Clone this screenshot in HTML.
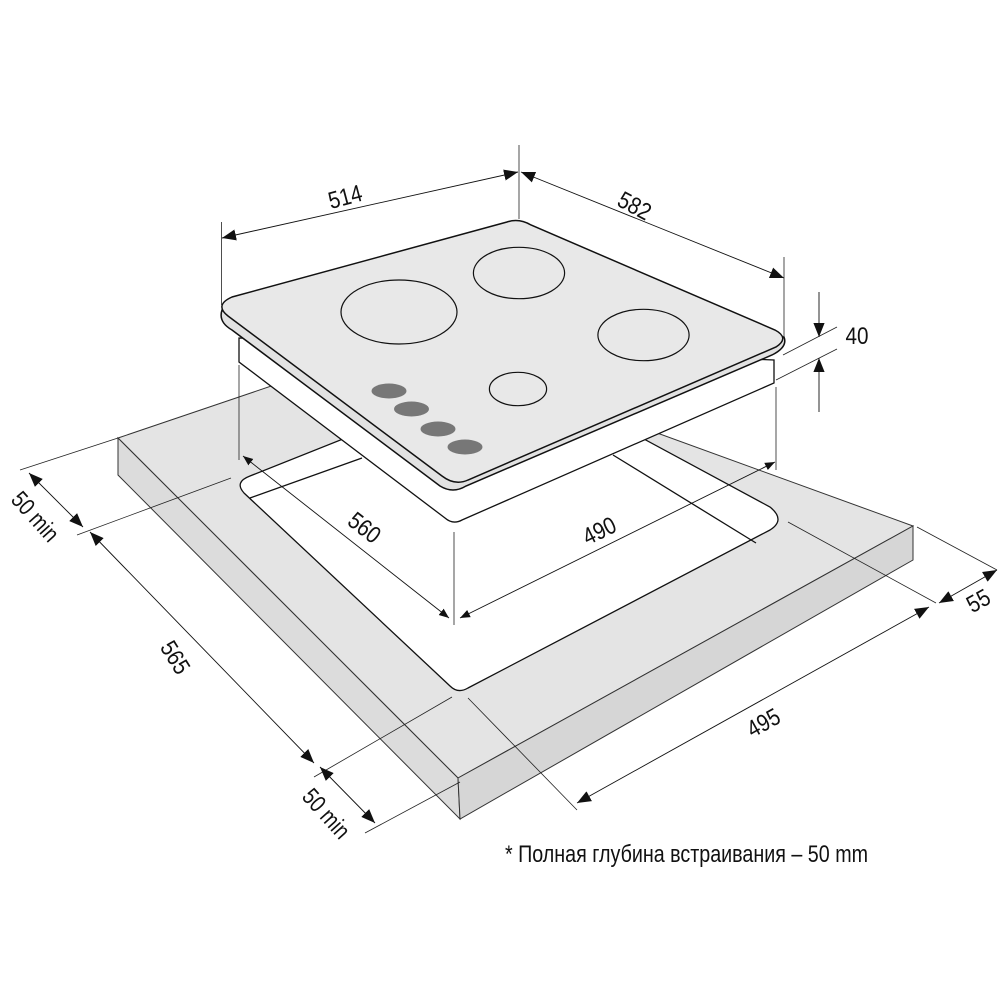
<!DOCTYPE html>
<html><head><meta charset="utf-8"><style>
html,body{margin:0;padding:0;background:#fff;width:1000px;height:1000px;overflow:hidden}
svg{display:block}
text{font-family:"Liberation Sans",sans-serif;font-size:24px;fill:#111}
</style></head><body>
<svg width="1000" height="1000" viewBox="0 0 1000 1000" xmlns="http://www.w3.org/2000/svg">
<defs>
<marker id="a" viewBox="0 0 10 10" refX="10" refY="5" markerWidth="10" markerHeight="10" markerUnits="userSpaceOnUse" orient="auto-start-reverse"><path d="M0,1 L10,5 L0,9z" fill="#111"/></marker>
<marker id="b" viewBox="0 0 10 10" refX="10" refY="5" markerWidth="14" markerHeight="14" markerUnits="userSpaceOnUse" orient="auto-start-reverse"><path d="M0,1 L10,5 L0,9z" fill="#111"/></marker>
</defs>
<polygon points="118,438 404,341 913,526 458,778" fill="#e4e4e4" stroke="#333" stroke-width="1"/>
<polygon points="118,438 458,778 460,819 118,475" fill="#dcdcdc" stroke="#333" stroke-width="1"/>
<polygon points="458,778 913,526 913,560 460,819" fill="#d6d6d6" stroke="#333" stroke-width="1"/>
<path d="M250,476 L516,370 L770,507 Q786,520 770,530 L468,688 Q458,694 450,686 L244,493 Q234,482 250,476Z" fill="#fff" stroke="#111" stroke-width="1.3"/>
<line x1="250" y1="498" x2="362" y2="458" stroke="#111" stroke-width="1.3"/>
<line x1="613" y1="455" x2="756" y2="543" stroke="#111" stroke-width="1.3"/>
<path d="M239,338 L239,362 L445,518 Q453,525 462,520 L774,383 L774,360 Z" fill="#fff" stroke="#111" stroke-width="1.3"/>
<path d="M230,317 L222,310 Q218,322 232,330 L440,486 Q453,494 466,486 L772,355 Q788,347 784,337 Z" fill="#e2e2e2" stroke="#111" stroke-width="1.5"/>
<path d="M232,297 L507,222 Q519,218 531,225 L775,330 Q790,338 776,347 L468,480 Q455,486 442,476 L228,316 Q214,305 232,297Z" fill="#e8e8e8" stroke="#111" stroke-width="1.5"/>
<g fill="none" stroke="#111" stroke-width="1.2">
<ellipse cx="399" cy="312" rx="58" ry="32"/>
<ellipse cx="519" cy="273" rx="45.6" ry="25.7"/>
<ellipse cx="643.5" cy="335" rx="45.6" ry="25.7"/>
<ellipse cx="518" cy="389" rx="28.6" ry="16.7"/>
</g>
<g fill="#777">
<ellipse cx="389" cy="391" rx="17.5" ry="7.5"/>
<ellipse cx="411.5" cy="409" rx="17.5" ry="7.5"/>
<ellipse cx="438" cy="429" rx="17.5" ry="7.5"/>
<ellipse cx="465" cy="447" rx="17.5" ry="7.5"/>
</g>
<g stroke="#222" stroke-width="0.8" fill="none">
<line x1="221.5" y1="222" x2="221.5" y2="305"/>
<line x1="519" y1="145" x2="519" y2="219"/>
<line x1="784" y1="257" x2="784" y2="337"/>
<line x1="783" y1="355" x2="837" y2="327"/>
<line x1="776" y1="380" x2="837" y2="349"/>
<line x1="239" y1="365" x2="239" y2="460"/>
<line x1="776" y1="387" x2="776" y2="470"/>
<line x1="454" y1="532" x2="454" y2="625"/>
<line x1="20" y1="470" x2="118" y2="438"/>
<line x1="77" y1="535" x2="231" y2="478"/>
<line x1="314" y1="777" x2="452" y2="697"/>
<line x1="365" y1="833" x2="460" y2="782"/>
<line x1="468" y1="698" x2="577" y2="810"/>
<line x1="788" y1="522" x2="936" y2="603"/>
<line x1="917" y1="527" x2="997" y2="570"/>
</g>
<g stroke="#111" stroke-width="0.9" fill="none">
<line x1="222" y1="238" x2="518" y2="172" marker-start="url(#b)" marker-end="url(#b)"/>
<line x1="521" y1="172" x2="784" y2="278" marker-start="url(#b)" marker-end="url(#b)"/>
<line x1="819" y1="292" x2="819" y2="337" marker-end="url(#b)"/>
<line x1="819" y1="412" x2="819" y2="358" marker-end="url(#b)"/>
<line x1="243" y1="456" x2="449" y2="618" marker-start="url(#a)" marker-end="url(#a)"/>
<line x1="460" y1="618" x2="775" y2="462" marker-start="url(#a)" marker-end="url(#a)"/>
<line x1="29" y1="473" x2="83" y2="527" marker-start="url(#b)" marker-end="url(#b)"/>
<line x1="90" y1="532" x2="314" y2="763" marker-start="url(#b)" marker-end="url(#b)"/>
<line x1="320" y1="767" x2="375" y2="823" marker-start="url(#b)" marker-end="url(#b)"/>
<line x1="577" y1="803" x2="929" y2="607" marker-start="url(#b)" marker-end="url(#b)"/>
<line x1="939" y1="603" x2="997" y2="570" marker-start="url(#b)" marker-end="url(#b)"/>
</g>
<g text-anchor="middle">
<text x="345" y="205" textLength="34" lengthAdjust="spacingAndGlyphs" transform="rotate(-15 345 196)">514</text>
<text x="635" y="214" textLength="34" lengthAdjust="spacingAndGlyphs" transform="rotate(28 635 205)">582</text>
<text x="857" y="344" textLength="23" lengthAdjust="spacingAndGlyphs">40</text>
<text x="365" y="536" textLength="34" lengthAdjust="spacingAndGlyphs" transform="rotate(38 365 527)">560</text>
<text x="599" y="539" textLength="34" lengthAdjust="spacingAndGlyphs" transform="rotate(-26 599 530)">490</text>
<text x="36" y="525" textLength="58" lengthAdjust="spacingAndGlyphs" transform="rotate(48 36 516)">50 min</text>
<text x="176" y="666" textLength="34" lengthAdjust="spacingAndGlyphs" transform="rotate(58 176 657)">565</text>
<text x="327" y="822" textLength="58" lengthAdjust="spacingAndGlyphs" transform="rotate(48 327 813)">50 min</text>
<text x="763" y="731" textLength="34" lengthAdjust="spacingAndGlyphs" transform="rotate(-29 763 722)">495</text>
<text x="978" y="609" textLength="23" lengthAdjust="spacingAndGlyphs" transform="rotate(-29 978 600)">55</text>
</g>
<text x="505" y="862" textLength="363" lengthAdjust="spacingAndGlyphs">* Полная глубина встраивания – 50 mm</text>
</svg>
</body></html>
